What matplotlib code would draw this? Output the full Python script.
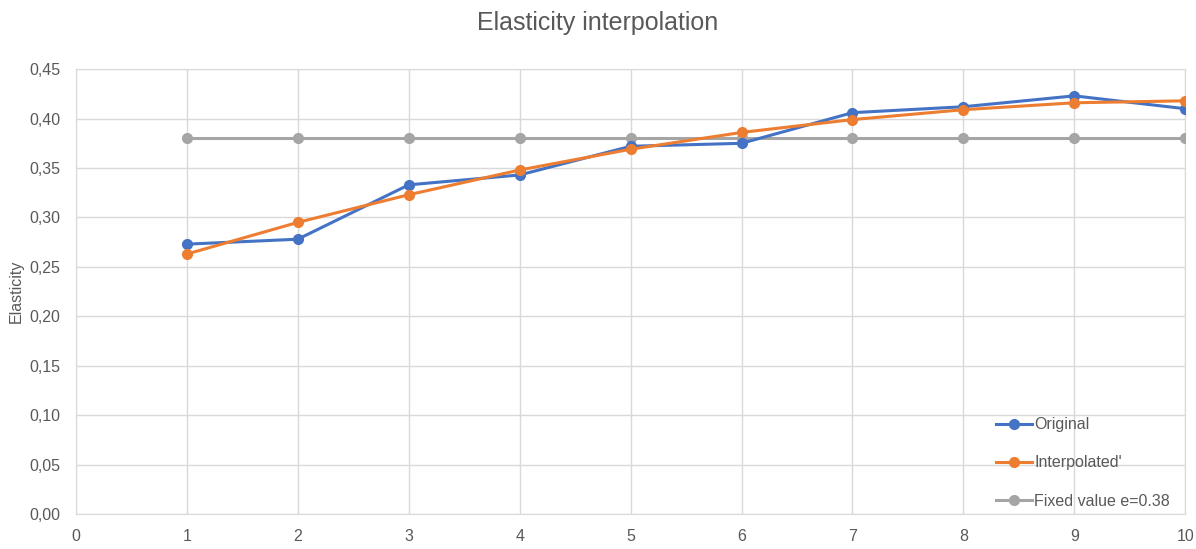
import matplotlib
matplotlib.use("Agg")
import matplotlib.pyplot as plt

x = [1, 2, 3, 4, 5, 6, 7, 8, 9, 10]
original = [0.273, 0.278, 0.333, 0.343, 0.372, 0.375, 0.406, 0.412, 0.423, 0.410]
interpolated = [0.263, 0.295, 0.323, 0.348, 0.369, 0.386, 0.399, 0.409, 0.416, 0.418]
fixed = [0.38] * 10
yticks = [0.00, 0.05, 0.10, 0.15, 0.20, 0.25, 0.30, 0.35, 0.40, 0.45]

plt.rcParams['font.family'] = ['Liberation Sans', 'DejaVu Sans']
txt = '#595959'

fig = plt.figure(figsize=(11.96, 5.49), dpi=100)
ax = fig.add_axes([0.0635, 0.0637, 0.9275, 0.8103])

ax.plot(x, original, color='#4472C4', lw=2.2, marker='o', ms=7, label='Original', zorder=4)
ax.plot(x, interpolated, color='#ED7D31', lw=2.2, marker='o', ms=7, label="Interpolated'", zorder=5)
ax.plot(x, fixed, color='#A5A5A5', lw=2.2, marker='o', ms=7, label='Fixed value e=0.38', zorder=3)

ax.set_xlim(0, 10)
ax.set_ylim(0, 0.45)
ax.set_xticks(range(0, 11))
ax.set_yticks(yticks)
ax.set_yticklabels([('%.2f' % v).replace('.', ',') for v in yticks])
ax.tick_params(length=0, colors=txt, labelsize=11.5, pad=11)
ax.grid(True, color='#d9d9d9', lw=1)
for s in ax.spines.values():
    s.set_color('#d9d9d9')
ax.set_axisbelow(True)

ax.set_ylabel('Elasticity', color=txt, fontsize=11.5)
fig.suptitle('Elasticity interpolation', color=txt, fontsize=18, y=0.98)

leg = ax.legend(loc='lower right', frameon=False, fontsize=11.5, labelspacing=1.45,
                handlelength=2.3, handletextpad=0.1, bbox_to_anchor=(0.999, -0.02))
for t in leg.get_texts():
    t.set_color(txt)

fig.savefig('out.png', dpi=100)
